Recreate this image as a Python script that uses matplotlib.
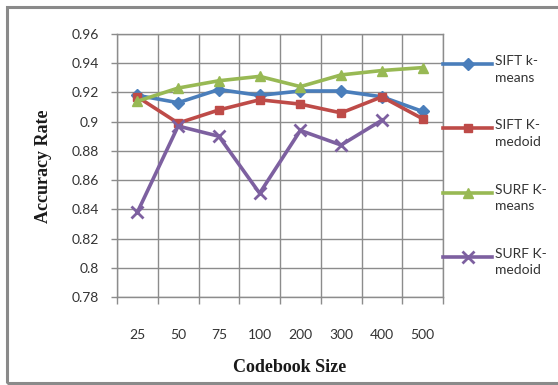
import matplotlib
matplotlib.use("Agg")
import matplotlib.pyplot as plt
from matplotlib.lines import Line2D
from matplotlib.patches import Rectangle

# ===== DATA =====
codebook_sizes = ["25", "50", "75", "100", "200", "300", "400", "500"]
sift_kmeans = [0.918, 0.913, 0.922, 0.918, 0.921, 0.921, 0.917, 0.907]
sift_kmedoid = [0.917, 0.899, 0.908, 0.915, 0.912, 0.906, 0.917, 0.902]
surf_kmeans = [0.914, 0.923, 0.928, 0.931, 0.924, 0.932, 0.935, 0.937]
surf_kmedoid = [0.838, 0.897, 0.890, 0.851, 0.894, 0.884, 0.901]
y_ticks = [0.78, 0.8, 0.82, 0.84, 0.86, 0.88, 0.9, 0.92, 0.94, 0.96]
y_tick_labels = ["0.78", "0.8", "0.82", "0.84", "0.86", "0.88", "0.9", "0.92", "0.94", "0.96"]

series = [
    ("SIFT k-\nmeans", sift_kmeans, "#4A7EBB", "D", 6),
    ("SIFT K-\nmedoid", sift_kmedoid, "#BE4B48", "s", 6),
    ("SURF K-\nmeans", surf_kmeans, "#98B954", "^", 7),
    ("SURF K-\nmedoid", surf_kmedoid, "#7D60A0", "x", 8),
]

GRID = "#8C8C8C"
TEXT = "#333333"
TICK_FONT = "Lato"
TITLE_FONT = "Liberation Serif"

fig = plt.figure(figsize=(5.58, 3.85), dpi=100)
fig.patch.set_facecolor("white")

# outer chart border (Excel style)
fig.add_artist(Rectangle((7 / 558, 1 - 383 / 385), 600 / 558, 376 / 385,
                         transform=fig.transFigure, fill=False,
                         edgecolor="#8A8A8A", linewidth=2.2))

ax = fig.add_axes([117 / 558, 1 - 297 / 385, 326 / 558, 263 / 385])

x = list(range(len(codebook_sizes)))
for label, vals, color, marker, ms in series:
    mew = 2 if marker == "x" else 1
    ax.plot(x[:len(vals)], vals, color=color, linewidth=2.6, marker=marker,
            markersize=ms, markeredgewidth=mew, markeredgecolor=color,
            solid_joinstyle="miter", zorder=3)

ax.set_xlim(-0.5, len(codebook_sizes) - 0.5)
ax.set_ylim(0.78, 0.96)
ax.set_yticks(y_ticks)
ax.set_yticklabels(y_tick_labels, fontfamily=TICK_FONT, fontsize=10, color=TEXT)

# categories sit between gridlines, boundaries get the ticks
ax.set_xticks([i - 0.5 for i in range(len(codebook_sizes) + 1)])
ax.set_xticklabels([])
ax.set_xticks(x, minor=True)
ax.set_xticklabels(codebook_sizes, minor=True, fontfamily=TICK_FONT, fontsize=10,
                   color=TEXT)
ax.tick_params(axis="x", which="minor", length=0, pad=23)
ax.tick_params(axis="x", which="major", length=5, color=GRID, width=1)
ax.tick_params(axis="y", length=4, color=GRID, width=1, pad=9)

ax.grid(True, which="major", color=GRID, linewidth=1)
ax.set_axisbelow(True)
for sp in ax.spines.values():
    sp.set_color(GRID)
    sp.set_linewidth(1)

fig.text(290 / 558, 1 - 367 / 385, "Codebook Size", fontfamily=TITLE_FONT,
         fontweight="bold", fontsize=13, ha="center", va="center", color="#1a1a1a")
fig.text(44 / 558, 1 - 166 / 385, "Accuracy Rate", fontfamily=TITLE_FONT,
         fontweight="bold", fontsize=13, ha="center", va="center", rotation=90,
         color="#1a1a1a")

# ===== LEGEND (manual, line aligned with first text row) =====
legend_y = [64, 128, 193, 257]
for (label, vals, color, marker, ms), ly in zip(series, legend_y):
    yf = 1 - ly / 385
    fig.add_artist(Line2D([443 / 558, 492 / 558], [yf, yf], transform=fig.transFigure,
                          color=color, linewidth=2.6))
    mew = 2 if marker == "x" else 1
    fig.add_artist(Line2D([468 / 558], [yf], transform=fig.transFigure, color=color,
                          marker=marker, markersize=ms, markeredgewidth=mew,
                          markeredgecolor=color, linestyle="none"))
    fig.text(495 / 558, 1 - (ly - 9) / 385, label, fontfamily=TICK_FONT, fontsize=10,
             ha="left", va="top", color=TEXT, linespacing=1.45)

fig.savefig("out.png", dpi=100)
